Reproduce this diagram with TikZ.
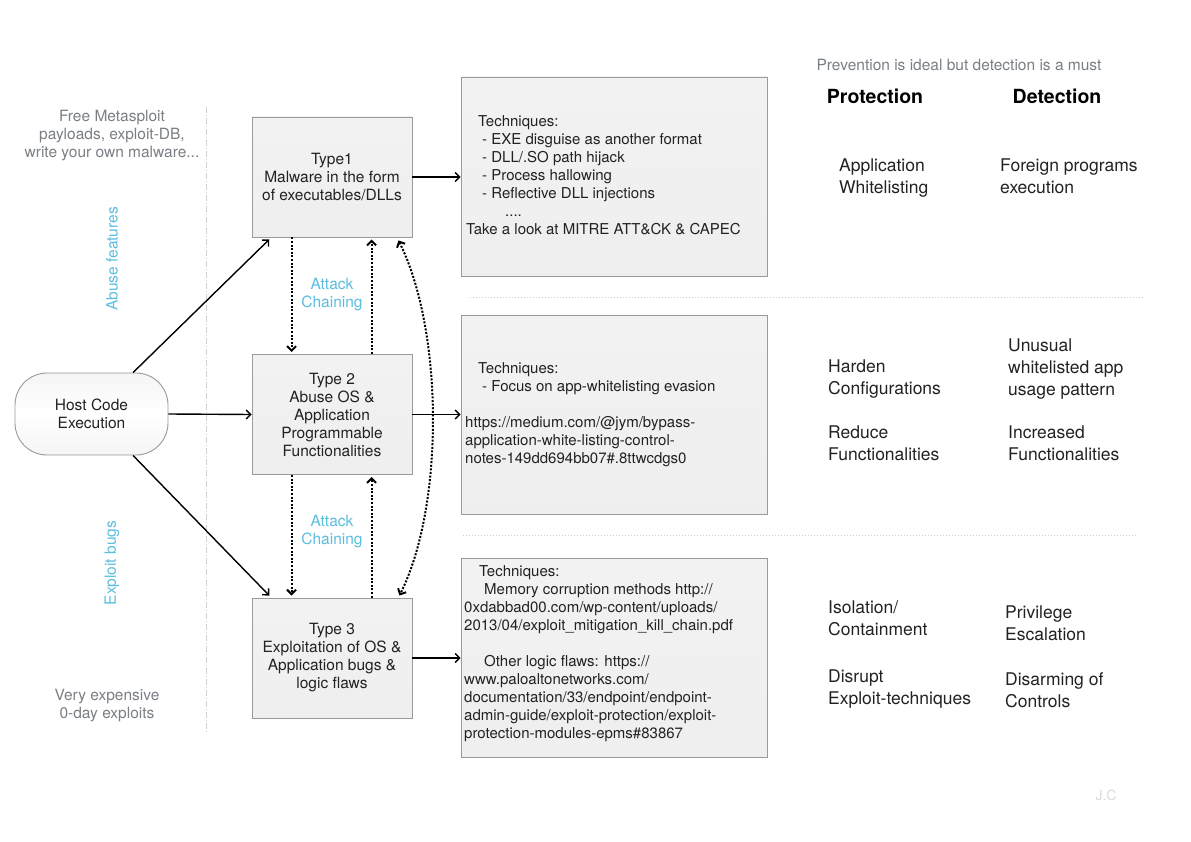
\documentclass[tikz,border=0pt]{standalone}
\usepackage{fontspec}
\setmainfont{TeX Gyre Heros}
\usetikzlibrary{arrows.meta,calc}
\definecolor{cyanlbl}{HTML}{5BBEDF}
\definecolor{txtgray}{HTML}{7A7F85}
\definecolor{boxline}{HTML}{9A9A9A}
\definecolor{sepgray}{HTML}{CDCDCD}
\definecolor{inktext}{HTML}{222222}
\begin{document}
\begin{tikzpicture}[x=1pt,y=-1pt,
  >={Straight Barb[length=4.5pt,width=9pt]},
  shadefill/.style={top color=gray!10,middle color=white,bottom color=gray!13},
  typebox/.style={draw=boxline,line width=0.9pt,shadefill,minimum width=160pt,minimum height=120pt,
    align=center,inner sep=0pt,font=\fontsize{15.5}{18}\selectfont,text=inktext},
  infobox/.style={draw=boxline,line width=0.9pt,shadefill,minimum width=306pt,minimum height=199pt,inner sep=0pt},
  hostbox/.style={draw=boxline,line width=0.9pt,top color=gray!8,bottom color=gray!8,middle color=white,rounded corners=32pt,minimum width=153pt,minimum height=82pt,
    align=center,inner sep=0pt,font=\fontsize{15.5}{18}\selectfont,text=inktext},
  infotext/.style={anchor=north west,align=left,inner sep=0pt,font=\fontsize{15}{18}\selectfont,text=inktext},
  coltext/.style={anchor=north west,align=left,inner sep=0pt,font=\fontsize{17.5}{22}\selectfont,text=inktext},
  headtext/.style={inner sep=0pt,font=\fontsize{19.5}{22}\selectfont\bfseries,text=black},
  graytext/.style={align=center,inner sep=0pt,font=\fontsize{15.5}{18}\selectfont,text=txtgray},
  cyantext/.style={align=center,inner sep=0pt,font=\fontsize{15.5}{18}\selectfont,text=cyanlbl},
  arr/.style={->,line width=1.4pt,black},
  dotarr/.style={line width=2pt,black,dash pattern=on 2pt off 1.6pt},
  sepline/.style={sepgray,line width=1pt,dash pattern=on 1pt off 2pt},
  vline/.style={gray!35,line width=1pt,dash pattern=on 6pt off 2pt on 1pt off 2pt}
]
\useasboundingbox[fill=white] (0,0) rectangle (1191,842);

% separators
\coordinate (v1) at (206,107);
\coordinate (v2) at (206,733);
\draw[vline] (v1) -- (v2);
\coordinate (s1a) at (470,298);
\coordinate (s1b) at (1143,298);
\coordinate (s2a) at (463,535);
\coordinate (s2b) at (1137,535);
\draw[sepline] (s1a) -- (s1b);
\draw[sepline] (s2a) -- (s2b);

% main nodes
\node[hostbox] (host) at (91.5,414) {Host Code\\Execution};
\node[typebox] (t1) at (332,177) {Type1\\Malware in the form\\of executables/DLLs};
\node[typebox] (t2) at (332,414.5) {Type 2\\Abuse OS \&\\Application\\Programmable\\Functionalities};
\node[typebox] (t3) at (332,658) {Type 3\\Exploitation of OS \&\\Application bugs \&\\logic flaws};

\node[infobox] (b1) at (614,176.5) {};
\node[infobox] (b2) at (614,414.5) {};
\node[infobox] (b3) at (614,658) {};

\node[infotext] (b1txt) at (466,115) {\hspace*{12pt}Techniques:\\
\hspace*{16pt}- EXE disguise as another format\\
\hspace*{16pt}- DLL/.SO path hijack\\
\hspace*{16pt}- Process hallowing\\
\hspace*{16pt}- Reflective DLL injections\\
\hspace*{39pt}....\\
Take a look at MITRE ATT\&CK \& CAPEC};

\node[infotext] (b2txt) at (465,362) {\hspace*{13pt}Techniques:\\
\hspace*{17pt}- Focus on app-whitelisting evasion\\[18pt]
https://medium.com/@jym/bypass-\\
application-white-listing-control-\\
notes-149dd694bb07\#.8ttwcdgs0};

\node[infotext] (b3txt) at (464,565) {\hspace*{15pt}Techniques:\\
\hspace*{20pt}Memory corruption methods http://\\
0xdabbad00.com/wp-content/uploads/\\
2013/04/exploit\_mitigation\_kill\_chain.pdf\\[18pt]
\hspace*{20pt}Other logic flaws: https://\\
www.paloaltonetworks.com/\\
documentation/33/endpoint/endpoint-\\
admin-guide/exploit-protection/exploit-\\
protection-modules-epms\#83867};

% left annotations
\node[graytext] (free) at (112,135.5) {Free Metasploit\\payloads, exploit-DB,\\write your own malware...};
\node[graytext] (expensive) at (107,706) {Very expensive\\0-day exploits};
\node[cyantext,rotate=90] (abuse) at (112,259) {Abuse features};
\node[cyantext,rotate=90] (bugs) at (112,563) {Exploit bugs};
\node[cyantext] (chain1) at (332,295) {Attack\\Chaining};
\node[cyantext] (chain2) at (332,532) {Attack\\Chaining};

% right columns
\node[inner sep=0pt,font=\fontsize{15.5}{18}\selectfont,text=txtgray] (motto) at (959,65) {Prevention is ideal but detection is a must};
\node[headtext] (prot) at (875,96) {Protection};
\node[headtext] (det) at (1057,96) {Detection};

\node[coltext] (p1) at (839,159) {Application\\Whitelisting};
\node[coltext] (d1) at (1000,159) {Foreign programs\\execution};
\node[coltext] (p2) at (828,360) {Harden\\Configurations};
\node[coltext] (p3) at (828,426) {Reduce\\Functionalities};
\node[coltext] (d2) at (1008,339) {Unusual\\whitelisted app\\usage pattern};
\node[coltext] (d3) at (1008,426) {Increased\\Functionalities};
\node[coltext] (p4) at (828,601) {Isolation/\\Containment};
\node[coltext] (p5) at (828,670) {Disrupt\\Exploit-techniques};
\node[coltext] (d4) at (1005,606) {Privilege\\Escalation};
\node[coltext] (d5) at (1005,672) {Disarming of\\Controls};

\node[inner sep=0pt,font=\fontsize{14}{16}\selectfont,text=gray!28] (jc) at (1106,795) {J.C};

% connectors
\draw[arr] ($(host.north west)!0.77!(host.north east)$) -- ($(t1.south west)!0.11!(t1.south east)+(0,2)$);
\draw[arr] ($(host.south west)!0.77!(host.south east)$) -- ($(t3.north west)!0.11!(t3.north east)+(0,-2)$);
\draw[arr] (host.east) -- (t2.west);
\draw[arr] (t1.east) -- (t1.east -| b1.west);
\draw[arr] (t2.east) -- (t2.east -| b2.west);
\draw[arr] (t3.east) -- (t3.east -| b3.west);

\draw[dotarr,->] ($(t1.south west)+(40,0)$) -- ($(t2.north west)+(40,-2)$);
\draw[dotarr,->] ($(t2.north west)+(120,0)$) -- ($(t1.south west)+(120,2)$);
\draw[dotarr,->] ($(t2.south west)+(40,0)$) -- ($(t3.north west)+(40,-2)$);
\draw[dotarr,->] ($(t3.north west)+(120,0)$) -- ($(t2.south west)+(120,2)$);
\draw[dotarr,<->] ($(t1.south east)+(-14,3)$) .. controls +(45,90) and +(45,-90) .. ($(t3.north east)+(-13,-2)$);
\end{tikzpicture}
\end{document}
